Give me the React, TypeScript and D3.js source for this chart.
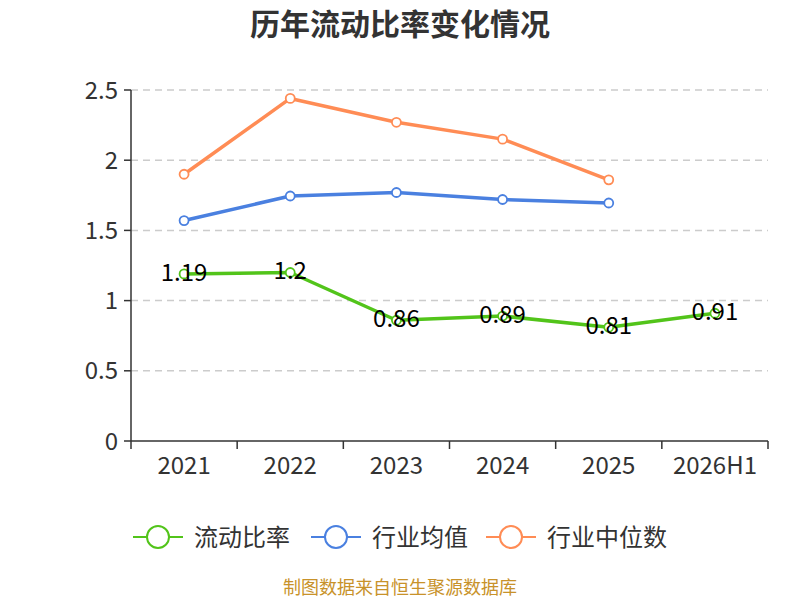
import { useEffect, useRef } from 'react'
import * as d3 from 'd3'

const YEARS = ['2021', '2022', '2023', '2024', '2025', '2026H1']
const CURRENT_RATIO = [1.19, 1.2, 0.86, 0.89, 0.81, 0.91]
const INDUSTRY_AVG = [1.57, 1.745, 1.77, 1.72, 1.695]
const INDUSTRY_MEDIAN = [1.9, 2.44, 2.27, 2.15, 1.86]
const Y_TICKS = [0, 0.5, 1, 1.5, 2, 2.5]

const SERIES = [
  { name: '流动比率', values: CURRENT_RATIO, color: '#52c41a', labels: true },
  { name: '行业均值', values: INDUSTRY_AVG, color: '#4a80e0', labels: false },
  { name: '行业中位数', values: INDUSTRY_MEDIAN, color: '#ff8c55', labels: false },
]

const FONT = '"Noto Sans CJK SC", "Noto Sans", sans-serif'

export default function App() {
  const ref = useRef<SVGSVGElement>(null)

  useEffect(() => {
    const svg = d3.select(ref.current)
    svg.selectAll('*').remove()
    const w = 800, h = 600
    const M = { t: 90, r: 32, b: 159, l: 131 }
    const W = w - M.l - M.r, H = h - M.t - M.b

    svg.append('rect').attr('width', w).attr('height', h).attr('fill', '#fff')

    svg.append('text').attr('x', w / 2).attr('y', 35).attr('text-anchor', 'middle')
      .attr('font-size', '30px').attr('font-weight', 'bold').attr('fill', '#333')
      .attr('font-family', FONT).text('历年流动比率变化情况')

    const x = d3.scaleBand().domain(YEARS).range([0, W])
    const y = d3.scaleLinear().domain([0, 2.5]).range([H, 0])
    const g = svg.append('g').attr('transform', `translate(${M.l},${M.t})`)

    // grid
    Y_TICKS.filter(t => t > 0).forEach(t => {
      g.append('line').attr('x1', 0).attr('x2', W).attr('y1', y(t)).attr('y2', y(t))
        .attr('stroke', '#ccc').attr('stroke-width', 1.5).attr('stroke-dasharray', '7,5')
    })

    // y axis
    g.append('line').attr('x1', 0).attr('x2', 0).attr('y1', 0).attr('y2', H)
      .attr('stroke', '#333').attr('stroke-width', 1.5)
    Y_TICKS.forEach(t => {
      g.append('line').attr('x1', -7).attr('x2', 0).attr('y1', y(t)).attr('y2', y(t))
        .attr('stroke', '#333').attr('stroke-width', 1.5)
      g.append('text').attr('x', -13).attr('y', y(t)).attr('dy', '0.36em')
        .attr('text-anchor', 'end').attr('font-size', '24px').attr('fill', '#333')
        .attr('font-family', FONT).text(String(t))
    })

    // x axis
    g.append('line').attr('x1', 0).attr('x2', W).attr('y1', H).attr('y2', H)
      .attr('stroke', '#333').attr('stroke-width', 1.5)
    d3.range(YEARS.length + 1).forEach(i => {
      const px = i * x.step()
      g.append('line').attr('x1', px).attr('x2', px).attr('y1', H).attr('y2', H + 8)
        .attr('stroke', '#333').attr('stroke-width', 1.5)
    })
    YEARS.forEach(yr => {
      g.append('text').attr('x', x(yr)! + x.bandwidth() / 2).attr('y', H + 33)
        .attr('text-anchor', 'middle').attr('font-size', '24px').attr('fill', '#333')
        .attr('font-family', FONT).text(yr)
    })

    const cx = (i: number) => x(YEARS[i])! + x.bandwidth() / 2
    const line = d3.line<number>().x((_, i) => cx(i)).y(d => y(d))

    ;[...SERIES].reverse().forEach(s => {
      g.append('path').datum(s.values).attr('fill', 'none').attr('stroke', s.color)
        .attr('stroke-width', 3.5).attr('stroke-linejoin', 'round').attr('d', line)
      s.values.forEach((v, i) => {
        g.append('circle').attr('cx', cx(i)).attr('cy', y(v)).attr('r', 4.5)
          .attr('fill', '#fff').attr('stroke', s.color).attr('stroke-width', 1.8)
      })
    })

    SERIES.filter(s => s.labels).forEach(s => {
      s.values.forEach((v, i) => {
        g.append('text').attr('x', cx(i)).attr('y', y(v) - 2).attr('dy', '0.36em')
          .attr('text-anchor', 'middle').attr('font-size', '24px').attr('fill', '#000')
          .attr('font-family', FONT).text(String(v))
      })
    })

    // legend
    const legendX = [133, 311, 486]
    SERIES.forEach((s, i) => {
      const lx = legendX[i], ly = 537
      svg.append('line').attr('x1', lx).attr('x2', lx + 50).attr('y1', ly).attr('y2', ly)
        .attr('stroke', s.color).attr('stroke-width', 2)
      svg.append('circle').attr('cx', lx + 25).attr('cy', ly).attr('r', 11)
        .attr('fill', '#fff').attr('stroke', s.color).attr('stroke-width', 2)
      svg.append('text').attr('x', lx + 61).attr('y', ly).attr('dy', '0.36em')
        .attr('font-size', '24px').attr('fill', '#333').attr('font-family', FONT).text(s.name)
    })

    svg.append('text').attr('x', w / 2).attr('y', 588).attr('dy', '0.36em').attr('text-anchor', 'middle')
      .attr('font-size', '18px').attr('fill', '#c8922a').attr('font-family', FONT)
      .text('制图数据来自恒生聚源数据库')
  }, [])

  return (
    <svg ref={ref} width={800} height={600}
      style={{ display: 'block', position: 'absolute', left: 0, top: 0 }} />
  )
}
